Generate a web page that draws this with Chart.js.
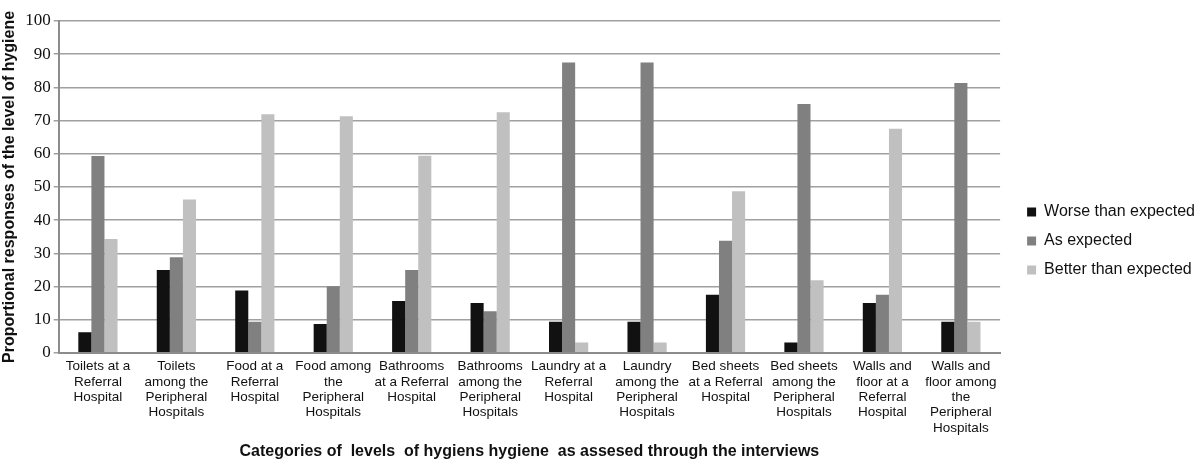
<!DOCTYPE html>
<html>
<head>
<meta charset="utf-8">
<script src="https://cdn.jsdelivr.net/npm/chart.js@4.4.1/dist/chart.umd.min.js"></script>
<style>
  html, body { margin: 0; padding: 0; background: #fff; }
  #wrap { width: 1200px; height: 461px; }
</style>
</head>
<body>
<div id="wrap"><canvas id="myChart"></canvas></div>
<script>
// Categories, split into the same lines as the original axis labels
const categories = [
  ['Toilets at a', 'Referral', 'Hospital'],
  ['Toilets', 'among the', 'Peripheral', 'Hospitals'],
  ['Food at a', 'Referral', 'Hospital'],
  ['Food among', 'the', 'Peripheral', 'Hospitals'],
  ['Bathrooms', 'at a Referral', 'Hospital'],
  ['Bathrooms', 'among the', 'Peripheral', 'Hospitals'],
  ['Laundry at a', 'Referral', 'Hospital'],
  ['Laundry', 'among the', 'Peripheral', 'Hospitals'],
  ['Bed sheets', 'at a Referral', 'Hospital'],
  ['Bed sheets', 'among the', 'Peripheral', 'Hospitals'],
  ['Walls and', 'floor at a', 'Referral', 'Hospital'],
  ['Walls and', 'floor among', 'the', 'Peripheral', 'Hospitals']
];

const worseThanExpected = [6.2, 25, 18.8, 8.7, 15.6, 15, 9.4, 9.4, 17.5, 3.1, 15, 9.4];
const asExpected = [59.3, 28.8, 9.4, 20.1, 25, 12.5, 87.5, 87.5, 33.8, 75, 17.5, 81.3];
const betterThanExpected = [34.3, 46.2, 71.9, 71.3, 59.4, 72.5, 3.1, 3.1, 48.7, 21.9, 67.5, 9.4];

const yTicks = [0, 10, 20, 30, 40, 50, 60, 70, 80, 90, 100];

// nudge the legend a bit away from the plot, like the original
const legendShift = {
  id: 'legendShift',
  afterLayout(chart) {
    chart.legend.left += 14;
    chart.legend.right += 14;
  }
};

const ctx = document.getElementById('myChart');

new Chart(ctx, {
  type: 'bar',
  data: {
    labels: categories,
    datasets: [
      { label: 'Worse than expected', data: worseThanExpected, backgroundColor: '#111111' },
      { label: 'As expected', data: asExpected, backgroundColor: '#808080' },
      { label: 'Better than expected', data: betterThanExpected, backgroundColor: '#c0c0c0' }
    ]
  },
  plugins: [legendShift],
  options: {
    responsive: true,
    maintainAspectRatio: false,
    animation: false,
    datasets: {
      bar: { categoryPercentage: 0.5, barPercentage: 1.0 }
    },
    layout: { padding: { top: 21, right: 9, bottom: 0, left: 0 } },
    plugins: {
      tooltip: { enabled: false },
      legend: {
        position: 'right',
        labels: {
          boxWidth: 9,
          boxHeight: 9,
          padding: 13,
          color: '#111',
          font: { family: 'Liberation Sans, Arial', size: 16 }
        }
      }
    },
    scales: {
      x: {
        grid: { display: false, drawTicks: false },
        border: { display: true, color: '#8c8c8c', width: 2 },
        ticks: {
          autoSkip: false,
          maxRotation: 0,
          minRotation: 0,
          padding: 6,
          color: '#111',
          font: { family: 'Liberation Sans, Arial', size: 13.5, lineHeight: 1.14 }
        },
        title: {
          display: true,
          text: 'Categories of  levels  of hygiens hygiene  as assesed through the interviews',
          color: '#111',
          font: { family: 'Liberation Sans, Arial', size: 16, weight: 'bold' },
          padding: { top: 0, bottom: 0 }
        }
      },
      y: {
        min: 0,
        max: 100,
        afterBuildTicks: axis => { axis.ticks = yTicks.map(v => ({ value: v })); },
        grid: { color: '#a0a0a0', lineWidth: 1.5, tickLength: 5 },
        border: { display: true, color: '#8c8c8c', width: 2 },
        ticks: {
          padding: 3,
          color: '#111',
          font: { family: 'Liberation Serif, Times New Roman', size: 17 }
        },
        title: {
          display: true,
          text: 'Proportional responses of the level of hygiene',
          color: '#111',
          font: { family: 'Liberation Sans, Arial', size: 16, weight: 'bold' },
          padding: { top: 0, bottom: 3 }
        }
      }
    }
  }
});
</script>
</body>
</html>
